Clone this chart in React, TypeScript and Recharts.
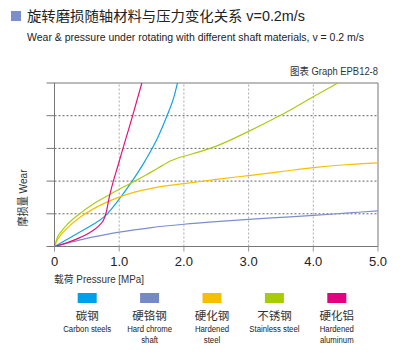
import React from 'react';
import { LineChart, Line, XAxis, YAxis, CartesianGrid, ReferenceLine, Legend } from 'recharts';

const xTicks = [0, 1, 2, 3, 4, 5];
const yTicks = [0, 1, 2, 3, 4, 5];
const verticalGrid = [1, 2, 3, 4];

const seriesNamesCn = ['碳钢', '硬铬钢', '硬化钢', '不锈钢', '硬化铝'];
const seriesNamesEn = [
  ['Carbon steels'],
  ['Hard chrome', 'shaft'],
  ['Hardened', 'steel'],
  ['Stainless steel'],
  ['Hardened', 'aluminum'],
];
const seriesColors = ['#14a3e4', '#7c8fcc', '#f7c000', '#abcc10', '#e4107f'];
const legendColors = ['#00a0e9', '#7489c6', '#f8be00', '#a7cb05', '#e4007f'];

const carbonSteel = [
  { x: 0, y: 0 }, { x: 0.2, y: 0.22 }, { x: 0.4, y: 0.45 }, { x: 0.6, y: 0.68 },
  { x: 0.78, y: 0.93 }, { x: 1.0, y: 1.45 }, { x: 1.2, y: 2.0 }, { x: 1.4, y: 2.62 },
  { x: 1.6, y: 3.35 }, { x: 1.75, y: 4.05 }, { x: 1.85, y: 4.6 }, { x: 1.9, y: 5.0 },
];
const hardChrome = [
  { x: 0, y: 0 }, { x: 0.25, y: 0.13 }, { x: 0.5, y: 0.25 }, { x: 0.75, y: 0.35 },
  { x: 1.0, y: 0.44 }, { x: 1.5, y: 0.58 }, { x: 2.0, y: 0.68 }, { x: 2.5, y: 0.76 },
  { x: 3.0, y: 0.83 }, { x: 3.5, y: 0.89 }, { x: 4.0, y: 0.95 }, { x: 4.5, y: 1.02 },
  { x: 5.0, y: 1.09 },
];
const hardenedSteel = [
  { x: 0, y: 0 }, { x: 0.05, y: 0.22 }, { x: 0.1, y: 0.36 }, { x: 0.2, y: 0.57 },
  { x: 0.4, y: 0.9 }, { x: 0.6, y: 1.15 }, { x: 0.8, y: 1.35 }, { x: 1.0, y: 1.51 },
  { x: 1.25, y: 1.67 }, { x: 1.5, y: 1.78 }, { x: 1.75, y: 1.86 }, { x: 2.0, y: 1.92 },
  { x: 2.5, y: 2.05 }, { x: 3.0, y: 2.17 }, { x: 3.5, y: 2.29 }, { x: 4.0, y: 2.41 },
  { x: 4.5, y: 2.5 }, { x: 5.0, y: 2.56 },
];
const stainlessSteel = [
  { x: 0, y: 0 }, { x: 0.05, y: 0.3 }, { x: 0.1, y: 0.45 }, { x: 0.2, y: 0.68 },
  { x: 0.4, y: 1.02 }, { x: 0.6, y: 1.3 }, { x: 0.8, y: 1.53 }, { x: 1.0, y: 1.75 },
  { x: 1.2, y: 1.96 }, { x: 1.4, y: 2.17 }, { x: 1.6, y: 2.4 }, { x: 1.8, y: 2.62 },
  { x: 1.9, y: 2.7 }, { x: 2.0, y: 2.76 }, { x: 2.25, y: 2.9 }, { x: 2.5, y: 3.07 },
  { x: 3.0, y: 3.52 }, { x: 3.5, y: 4.02 }, { x: 4.0, y: 4.58 }, { x: 4.38, y: 5.0 },
];
const hardenedAluminum = [
  { x: 0, y: 0 }, { x: 0.2, y: 0.12 }, { x: 0.4, y: 0.28 }, { x: 0.6, y: 0.5 },
  { x: 0.7, y: 0.66 }, { x: 0.76, y: 0.82 }, { x: 0.8, y: 1.05 }, { x: 0.84, y: 1.45 },
  { x: 1.0, y: 2.6 }, { x: 1.2, y: 3.95 }, { x: 1.35, y: 5.0 },
];

const seriesData = [carbonSteel, hardChrome, hardenedSteel, stainlessSteel, hardenedAluminum];

const FONT = "'Liberation Sans', Arial, 'Noto Sans CJK SC', sans-serif";
const CJK = "'Liberation Sans', 'Noto Sans CJK SC', sans-serif";

const renderLegend = (props: any) => {
  const payload = props.payload || [];
  return (
    <svg width={400} height={70} style={{ display: 'block', fontFamily: CJK }}>
      {payload.map((entry: any) => {
        const idx = seriesNamesCn.indexOf(entry.value);
        const cx = 87.2 + idx * 62.4;
        return (
          <g key={entry.value}>
            <rect x={cx - 9.5} y={8} width={19} height={10} fill={legendColors[idx]} />
            <text x={cx} y={35} textAnchor="middle" fontSize={11.5} fill="#333">
              {seriesNamesCn[idx]}
            </text>
            {seriesNamesEn[idx].map((line, j) => (
              <text
                key={line}
                transform={`translate(${cx},${46.5 + j * 11}) scale(0.82,1)`}
                textAnchor="middle"
                fontSize={9.5}
                fill="#222"
                style={{ fontFamily: FONT }}
              >
                {line}
              </text>
            ))}
          </g>
        );
      })}
    </svg>
  );
};

export default function App() {
  return (
    <div style={{ position: 'absolute', left: 0, top: 0, width: 400, height: 360, background: '#fff', fontFamily: FONT }}>
      <svg width={400} height={360} style={{ position: 'absolute', left: 0, top: 0 }}>
        <rect x={11} y={11} width={10} height={10} fill="#7b8fcf" />
        <text x={27} y={21} fontSize={14} fill="#222" textLength={278} lengthAdjust="spacingAndGlyphs" style={{ fontFamily: CJK }}>
          旋转磨损随轴材料与压力变化关系 v=0.2m/s
        </text>
        <text x={27} y={40.5} fontSize={11.5} fill="#222" textLength={337} lengthAdjust="spacingAndGlyphs">
          Wear &amp; pressure under rotating with different shaft materials, v = 0.2 m/s
        </text>
        <text x={378} y={75} fontSize={10.5} fill="#333" textAnchor="end" textLength={88} lengthAdjust="spacingAndGlyphs" style={{ fontFamily: CJK }}>
          图表 Graph EPB12-8
        </text>
        <text transform="translate(27,198) rotate(-90)" textAnchor="middle" fontSize={11.5} fill="#333" textLength={57} lengthAdjust="spacingAndGlyphs" style={{ fontFamily: CJK }}>
          摩损量 Wear
        </text>
        <text x={54} y={282.5} fontSize={10.5} fill="#333" textLength={90} lengthAdjust="spacingAndGlyphs" style={{ fontFamily: CJK }}>
          载荷 Pressure  [MPa]
        </text>
      </svg>
      <div style={{ position: 'absolute', left: 0, top: 0 }}>
        <LineChart
          width={400}
          height={360}
          margin={{ top: 83, right: 22, left: 44.5, bottom: 83.5 }}
          style={{ fontFamily: FONT }}
        >
          <CartesianGrid horizontal vertical={false} stroke="#666" strokeDasharray="2 2" />
          {verticalGrid.map((v) => (
            <ReferenceLine key={v} x={v} stroke="#aaa" strokeDasharray="2 2" />
          ))}
          <XAxis
            dataKey="x"
            type="number"
            domain={[0, 5]}
            ticks={xTicks}
            allowDataOverflow
            height={30}
            tickSize={5}
            tickMargin={5}
            axisLine={{ stroke: '#777' }}
            tickLine={{ stroke: '#999' }}
            tick={{ fontSize: 13, fill: '#222' }}
            tickFormatter={(v: number) => (v === 0 ? '0' : v.toFixed(1))}
          />
          <YAxis
            type="number"
            domain={[0, 5]}
            ticks={yTicks}
            allowDataOverflow
            width={10}
            tickSize={8}
            axisLine={{ stroke: '#777' }}
            tickLine={{ stroke: '#777' }}
            tickFormatter={() => ''}
          />
          <ReferenceLine y={5} stroke="#bbb" strokeWidth={2} />
          <ReferenceLine x={5} stroke="#777" />
          {seriesData.map((d, i) => (
            <Line
              key={seriesNamesCn[i]}
              data={d}
              dataKey="y"
              name={seriesNamesCn[i]}
              type="monotone"
              stroke={seriesColors[i]}
              strokeWidth={1.2}
              dot={false}
              activeDot={false}
              isAnimationActive={false}
            />
          ))}
          <Legend
            layout="vertical"
            align="center"
            verticalAlign="middle"
            wrapperStyle={{ position: 'absolute', left: 0, top: 285, width: 400, height: 70 }}
            content={renderLegend}
          />
        </LineChart>
      </div>
    </div>
  );
}
